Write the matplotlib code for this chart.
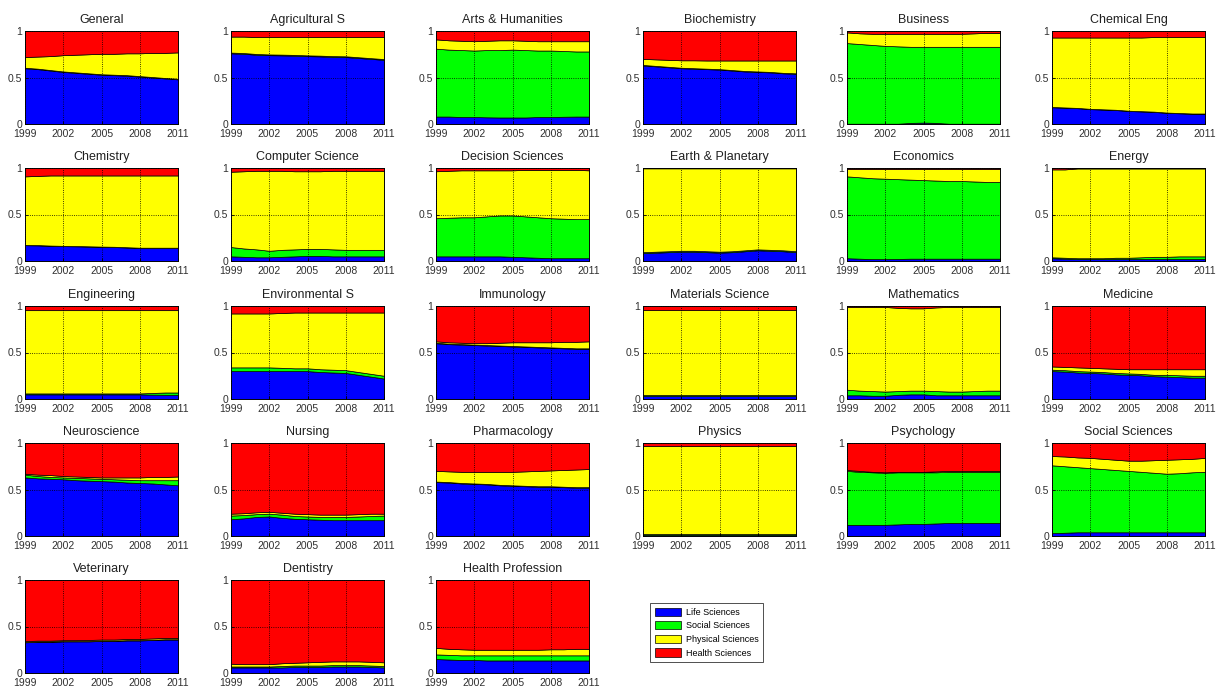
import numpy as np
import matplotlib
matplotlib.use("Agg")
import matplotlib.pyplot as plt
from matplotlib.patches import Patch

plt.rcParams['font.family'] = ['Liberation Sans', 'DejaVu Sans']

years = list(range(1999, 2012))

subjects = [
    "General", "Agricultural S", "Arts & Humanities", "Biochemistry", "Business", "Chemical Eng",
    "Chemistry", "Computer Science", "Decision Sciences", "Earth & Planetary", "Economics", "Energy",
    "Engineering", "Environmental S", "Immunology", "Materials Science", "Mathematics", "Medicine",
    "Neuroscience", "Nursing", "Pharmacology", "Physics", "Psychology", "Social Sciences",
    "Veterinary", "Dentistry", "Health Profession",
]

series_names = ["Life Sciences", "Social Sciences", "Physical Sciences", "Health Sciences"]

# share of each subject's output per field, 1999..2011 (health = remainder)
life = [
    [.60, .59, .575, .56, .55, .54, .53, .525, .52, .51, .50, .49, .48],
    [.76, .755, .745, .74, .738, .735, .73, .727, .722, .72, .71, .70, .69],
    [.08, .08, .075, .075, .072, .07, .07, .07, .075, .075, .078, .08, .08],
    [.63, .62, .61, .60, .595, .59, .585, .575, .565, .56, .555, .545, .54],
    [.003, .003, .003, .003, .003, .012, .015, .012, .003, .003, .003, .003, .003],
    [.18, .175, .17, .16, .155, .15, .14, .135, .13, .12, .115, .11, .11],
    [.17, .168, .163, .16, .158, .155, .152, .15, .145, .14, .14, .14, .14],
    [.05, .045, .04, .04, .045, .05, .055, .055, .05, .05, .05, .05, .05],
    [.05, .05, .05, .05, .05, .05, .045, .04, .035, .03, .03, .03, .03],
    [.085, .09, .095, .10, .10, .095, .09, .095, .105, .115, .11, .105, .095],
    [.03, .025, .02, .02, .022, .025, .025, .025, .025, .025, .025, .025, .025],
    [.03, .025, .02, .02, .02, .02, .02, .02, .02, .02, .02, .02, .02],
    [.05, .05, .05, .05, .05, .05, .05, .05, .05, .05, .047, .045, .045],
    [.30, .30, .30, .30, .30, .30, .30, .29, .285, .28, .26, .24, .22],
    [.60, .59, .585, .58, .575, .57, .565, .56, .555, .55, .545, .54, .54],
    [.035] * 13,
    [.04, .04, .035, .035, .045, .05, .05, .04, .04, .04, .04, .04, .04],
    [.30, .295, .285, .28, .275, .265, .26, .255, .245, .24, .235, .23, .23],
    [.63, .62, .615, .61, .60, .595, .59, .585, .575, .57, .565, .555, .545],
    [.18, .19, .205, .21, .195, .185, .18, .175, .17, .17, .17, .17, .17],
    [.58, .575, .565, .56, .555, .545, .54, .535, .53, .53, .525, .52, .52],
    [.015] * 13,
    [.12, .12, .12, .12, .125, .13, .13, .135, .14, .14, .14, .14, .14],
    [.03, .035, .04, .04, .04, .04, .04, .04, .04, .04, .04, .04, .04],
    [.33, .335, .335, .34, .34, .34, .345, .345, .35, .35, .355, .36, .36],
    [.06, .06, .06, .06, .06, .065, .065, .065, .07, .07, .07, .065, .06],
    [.15, .145, .14, .14, .135, .135, .135, .135, .135, .135, .135, .135, .135],
]

social = [
    [.005] * 13,
    [.008] * 13,
    [.73, .72, .72, .715, .723, .725, .73, .725, .715, .715, .707, .70, .70],
    [.005] * 13,
    [.867, .857, .847, .837, .832, .818, .815, .818, .827, .827, .827, .827, .827],
    [.003] * 13,
    [.003] * 13,
    [.10, .09, .085, .07, .075, .075, .075, .075, .075, .07, .07, .07, .07],
    [.41, .415, .42, .42, .43, .44, .445, .44, .435, .43, .425, .42, .42],
    [.01] * 13,
    [.88, .875, .87, .865, .858, .85, .845, .84, .835, .835, .83, .825, .825],
    [.01, .01, .01, .01, .01, .015, .015, .02, .025, .025, .03, .03, .03],
    [.01, .01, .01, .01, .01, .01, .01, .01, .01, .01, .018, .025, .025],
    [.04, .04, .04, .04, .035, .03, .03, .03, .03, .03, .03, .03, .03],
    [.005] * 13,
    [.005] * 13,
    [.06, .05, .05, .045, .04, .04, .04, .045, .04, .04, .045, .05, .05],
    [.015, .015, .015, .015, .015, .015, .015, .015, .015, .02, .02, .02, .02],
    [.03, .025, .02, .02, .025, .025, .025, .025, .03, .03, .035, .045, .055],
    [.04, .035, .03, .03, .035, .03, .03, .03, .035, .035, .04, .045, .05],
    [.005] * 13,
    [.003] * 13,
    [.58, .57, .565, .56, .56, .555, .555, .55, .55, .55, .55, .55, .55],
    [.73, .715, .70, .69, .68, .67, .66, .65, .64, .63, .635, .645, .65],
    [.003] * 13,
    [.01, .01, .01, .01, .015, .015, .015, .015, .015, .015, .015, .015, .015],
    [.05, .05, .05, .05, .055, .055, .055, .055, .055, .055, .055, .055, .055],
]

physical = [
    [.115, .13, .15, .175, .19, .205, .22, .225, .235, .245, .26, .27, .285],
    [.172, .177, .182, .187, .189, .192, .197, .20, .205, .207, .217, .227, .237],
    [.10, .10, .10, .10, .10, .105, .10, .10, .10, .10, .105, .11, .11],
    [.065, .07, .075, .08, .085, .088, .093, .103, .113, .118, .123, .133, .138],
    [.115, .115, .12, .13, .135, .14, .14, .14, .14, .14, .145, .15, .15],
    [.747, .752, .757, .767, .772, .777, .787, .792, .802, .812, .817, .822, .822],
    [.737, .744, .754, .757, .759, .762, .765, .767, .772, .777, .777, .777, .777],
    [.81, .83, .845, .86, .85, .84, .835, .835, .845, .85, .85, .85, .85],
    [.505, .505, .505, .505, .495, .485, .485, .50, .51, .52, .525, .53, .525],
    [.90, .895, .89, .885, .885, .89, .895, .89, .88, .87, .875, .88, .89],
    [.08, .09, .10, .105, .11, .115, .12, .125, .13, .13, .135, .14, .14],
    [.945, .95, .965, .965, .965, .96, .96, .955, .95, .95, .945, .945, .945],
    [.895, .895, .895, .895, .895, .895, .895, .895, .895, .895, .89, .885, .885],
    [.58, .58, .58, .58, .59, .60, .60, .61, .615, .62, .64, .66, .68],
    [.015, .015, .015, .015, .02, .03, .04, .045, .05, .055, .065, .07, .075],
    [.92] * 13,
    [.89, .90, .905, .91, .895, .885, .885, .90, .91, .91, .905, .90, .90],
    [.035, .035, .04, .04, .04, .045, .045, .05, .06, .06, .065, .07, .07],
    [.01, .015, .02, .015, .015, .015, .015, .02, .025, .03, .035, .035, .04],
    [.02, .02, .02, .02, .02, .025, .025, .025, .025, .025, .025, .025, .02],
    [.115, .115, .12, .125, .13, .14, .145, .155, .165, .17, .18, .19, .195],
    [.952] * 13,
    [.01, .01, .005, .005, .005, .005, .005, .01, .01, .01, .01, .01, .01],
    [.10, .105, .105, .11, .11, .11, .11, .12, .135, .15, .15, .145, .15],
    [.01, .01, .01, .01, .01, .012, .012, .012, .013, .013, .014, .015, .015],
    [.03, .025, .025, .025, .03, .03, .035, .04, .04, .04, .04, .04, .04],
    [.07, .065, .065, .06, .06, .06, .06, .06, .06, .065, .065, .07, .07],
]

colors = ["#0000ff", "#00ff00", "#ffff00", "#ff0000"]
tick_grey = "#303030"

W, H = 1216, 691
fig = plt.figure(figsize=(W / 100, H / 100), dpi=100)
fig.patch.set_facecolor("white")

ax_w, ax_h = 153, 93
col_left = [25, 231, 436, 643, 847, 1052]
row_top = [31, 168, 306, 443, 580]

for i, name in enumerate(subjects):
    r, c = divmod(i, 6)
    ax = fig.add_axes([col_left[c] / W, 1 - (row_top[r] + ax_h) / H, ax_w / W, ax_h / H])
    l = np.array(life[i])
    s = np.array(social[i])
    p = np.array(physical[i])
    h = 1 - l - s - p
    ax.stackplot(years, l, s, p, h, colors=colors, edgecolor="k", linewidth=0.5)
    ax.set_xlim(1999, 2011)
    ax.set_ylim(0, 1)
    ax.set_xticks([1999, 2002, 2005, 2008, 2011])
    ax.set_yticks([0, 0.5, 1])
    ax.set_yticklabels(["0", "0.5", "1"])
    ax.tick_params(direction="in", length=2, labelsize=7.5, width=0.6,
                   labelcolor=tick_grey)
    ax.tick_params(axis="x", pad=3.5)
    ax.tick_params(axis="y", pad=2)
    ax.grid(True, linestyle=":", color="k", linewidth=0.6)
    ax.set_axisbelow(False)
    for sp in ax.spines.values():
        sp.set_linewidth(0.6)
    ax.set_title(name, fontsize=9, pad=6, color="#202020")

handles = [Patch(facecolor=col, edgecolor="k", linewidth=0.5) for col in colors]
leg = fig.legend(handles, series_names, loc="upper left",
                 bbox_to_anchor=(650 / W, 1 - 603 / H), borderaxespad=0,
                 fontsize=6.5, frameon=True, fancybox=False, edgecolor="k",
                 handlelength=2.9, handleheight=1.0, borderpad=0.5,
                 labelspacing=0.5, handletextpad=0.6)
leg.get_frame().set_linewidth(0.6)

fig.savefig("out.png", dpi=100)
